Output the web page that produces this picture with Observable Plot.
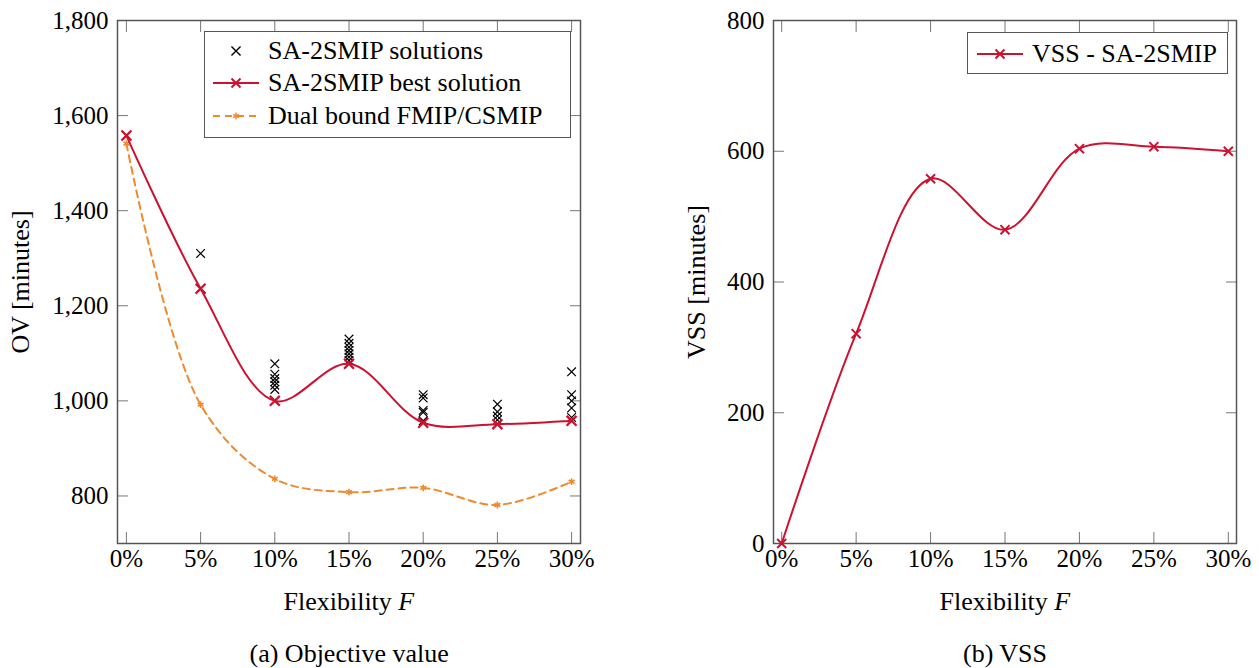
<!DOCTYPE html>
<html>
<head>
<meta charset="utf-8">
<script src="https://cdn.jsdelivr.net/npm/d3@7"></script>
<script src="https://cdn.jsdelivr.net/npm/@observablehq/plot@0.6"></script>
<style>
  html, body { margin: 0; padding: 0; background: #fff; }
  #wrap { position: relative; width: 1259px; height: 668px; font-family: "Liberation Serif", "Times New Roman", Tinos, Times, "DejaVu Serif", "Noto Serif", serif; color: #000; overflow: hidden; }
  .t { position: absolute; font-size: 26px; white-space: nowrap; line-height: 1; }
  .legend { position: absolute; border: 1.5px solid #555; background: #fff; box-sizing: border-box; }
  .legend .row { position: absolute; left: 0; display: flex; align-items: center; font-size: 26px; white-space: nowrap; line-height: 1; }
</style>
</head>
<body>
<div id="wrap"></div>
<script>
// ---------- data ----------
const flexibility = [0, 5, 10, 15, 20, 25, 30];
const bestOV = [1558, 1236, 1000, 1078, 954, 951, 958];
const dualBound = [1541, 992, 836, 808, 817, 781, 830];
const solutionFlex = [0, 5, 5,
  10, 10, 10, 10, 10, 10, 10,
  15, 15, 15, 15, 15, 15, 15, 15,
  20, 20, 20, 20, 20, 20,
  25, 25, 25, 25, 25,
  30, 30, 30, 30, 30, 30];
const solutionOV = [1558, 1310, 1236,
  1078, 1056, 1047, 1040, 1033, 1024, 1000,
  1130, 1121, 1113, 1106, 1099, 1092, 1085, 1078,
  1013, 1006, 980, 976, 958, 954,
  993, 977, 968, 960, 951,
  1061, 1013, 1000, 985, 965, 958];
const vss = [0, 321, 558, 480, 604, 607, 600];
const xTicks = [0, 5, 10, 15, 20, 25, 30];
const ovTicks = [800, 1000, 1200, 1400, 1600, 1800];
const vssTicks = [0, 200, 400, 600, 800];

const RED = "#cc1230";
const ORANGE = "#ef8a2c";
const FONT = "'Liberation Serif', 'Times New Roman', Tinos, Times, 'DejaVu Serif', 'Noto Serif', serif";

const best = flexibility.map((f, i) => ({f, v: bestOV[i]}));
const dual = flexibility.map((f, i) => ({f, v: dualBound[i]}));
const sols = solutionFlex.map((f, i) => ({f, v: solutionOV[i]}));
const vssData = flexibility.map((f, i) => ({f, v: vss[i]}));

const wrap = document.getElementById("wrap");

function axes(yTicks, yFmt) {
  const tickStroke = "#777";
  return [
    Plot.axisX(xTicks, {anchor: "bottom", tickSize: -11, tickPadding: 17, tickFormat: d => d + "%", label: null, stroke: tickStroke, fontSize: 25}),
    Plot.axisX(xTicks, {anchor: "top", tickSize: -11, tickFormat: () => "", label: null, stroke: tickStroke}),
    Plot.axisY(yTicks, {anchor: "left", tickSize: -11, tickPadding: 20, tickFormat: yFmt, label: null, stroke: tickStroke, fontSize: 25}),
    Plot.axisY(yTicks, {anchor: "right", tickSize: -11, tickFormat: () => "", label: null, stroke: tickStroke}),
    Plot.frame({stroke: "#555", strokeWidth: 1.5})
  ];
}

const common = {
  width: 600, height: 580,
  marginLeft: 117, marginRight: 20, marginTop: 20, marginBottom: 37,
  style: {fontFamily: FONT, fontSize: "25px", color: "#000", background: "transparent", overflow: "visible"}
};

const left = Plot.plot({
  ...common,
  x: {domain: [-0.6, 30.6]},
  y: {domain: [700, 1800]},
  marks: [
    ...axes(ovTicks, d3.format(",")),
    Plot.line(dual, {x: "f", y: "v", stroke: ORANGE, strokeWidth: 2, strokeDasharray: "7,5", curve: "catmull-rom"}),
    Plot.dot(dual, {x: "f", y: "v", symbol: "asterisk", r: 3.2, stroke: ORANGE, strokeWidth: 1.6}),
    Plot.dot(sols, {x: "f", y: "v", symbol: "times", r: 4, stroke: "#000", strokeWidth: 1.2}),
    Plot.line(best, {x: "f", y: "v", stroke: RED, strokeWidth: 2, curve: "catmull-rom"}),
    Plot.dot(best, {x: "f", y: "v", symbol: "times", r: 4.6, stroke: RED, strokeWidth: 2.2})
  ]
});
left.style.position = "absolute"; left.style.left = "0px"; left.style.top = "0px";
wrap.appendChild(left);

const right = Plot.plot({
  ...common,
  x: {domain: [-0.55, 30.55]},
  y: {domain: [0, 800]},
  marks: [
    ...axes(vssTicks, d3.format(",")),
    Plot.line(vssData, {x: "f", y: "v", stroke: RED, strokeWidth: 2, curve: "catmull-rom"}),
    Plot.dot(vssData, {x: "f", y: "v", symbol: "times", r: 4.2, stroke: RED, strokeWidth: 2})
  ]
});
right.style.position = "absolute"; right.style.left = "656px"; right.style.top = "0px";
wrap.appendChild(right);

// ---------- texts ----------
function addText(html, cx, cy, rotate) {
  const d = document.createElement("div");
  d.className = "t";
  d.innerHTML = html;
  wrap.appendChild(d);
  const w = d.offsetWidth, h = d.offsetHeight;
  d.style.left = (cx - w / 2) + "px";
  d.style.top = (cy - h / 2) + "px";
  if (rotate) d.style.transform = `rotate(${rotate}deg)`;
  return d;
}
addText("Flexibility <i>F</i>", 349, 602);
addText("Flexibility <i>F</i>", 1005, 602);
addText("(a) Objective value", 349, 654);
addText("(b) VSS", 1005, 654);
addText("OV [minutes]", 20, 282, -90);
addText("VSS [minutes]", 697, 282, -90);

// ---------- legends ----------
function swatch(color, dashed, symbol, lineOn) {
  const svg = d3.create("svg").attr("width", 48).attr("height", 20).style("margin-right", "7px").style("overflow", "visible");
  if (lineOn) svg.append("line").attr("x1", 0).attr("x2", 46).attr("y1", 10).attr("y2", 10)
    .attr("stroke", color).attr("stroke-width", 2).attr("stroke-dasharray", dashed ? "7,5" : null);
  const sym = d3.symbol().type(symbol).size(symbol === d3.symbolTimes ? 55 : 32)();
  svg.append("path").attr("d", sym).attr("transform", "translate(23,10)").attr("fill", "none")
    .attr("stroke", color).attr("stroke-width", symbol === d3.symbolTimes && color !== "#000" ? 2 : 1.4);
  return svg.node();
}
function legend(x, y, w, h, rows) {
  const box = document.createElement("div");
  box.className = "legend";
  Object.assign(box.style, {left: x + "px", top: y + "px", width: w + "px", height: h + "px"});
  rows.forEach(r => {
    const row = document.createElement("div");
    row.className = "row";
    row.style.left = r.left + "px";
    row.style.top = (r.cy - y - 12) + "px";
    row.style.height = "24px";
    row.appendChild(swatch(r.color, r.dashed, r.symbol, r.line));
    const span = document.createElement("span");
    span.textContent = r.label;
    row.appendChild(span);
    box.appendChild(row);
  });
  wrap.appendChild(box);
}
legend(204, 31, 367, 107, [
  {label: "SA-2SMIP solutions", color: "#000", symbol: d3.symbolTimes, line: false, left: 8, cy: 50},
  {label: "SA-2SMIP best solution", color: RED, symbol: d3.symbolTimes, line: true, left: 8, cy: 82},
  {label: "Dual bound FMIP/CSMIP", color: ORANGE, symbol: d3.symbolAsterisk, line: true, dashed: true, left: 8, cy: 115}
]);
legend(967, 32, 261, 42, [
  {label: "VSS - SA-2SMIP", color: RED, symbol: d3.symbolTimes, line: true, left: 9, cy: 53}
]);
</script>
</body>
</html>
